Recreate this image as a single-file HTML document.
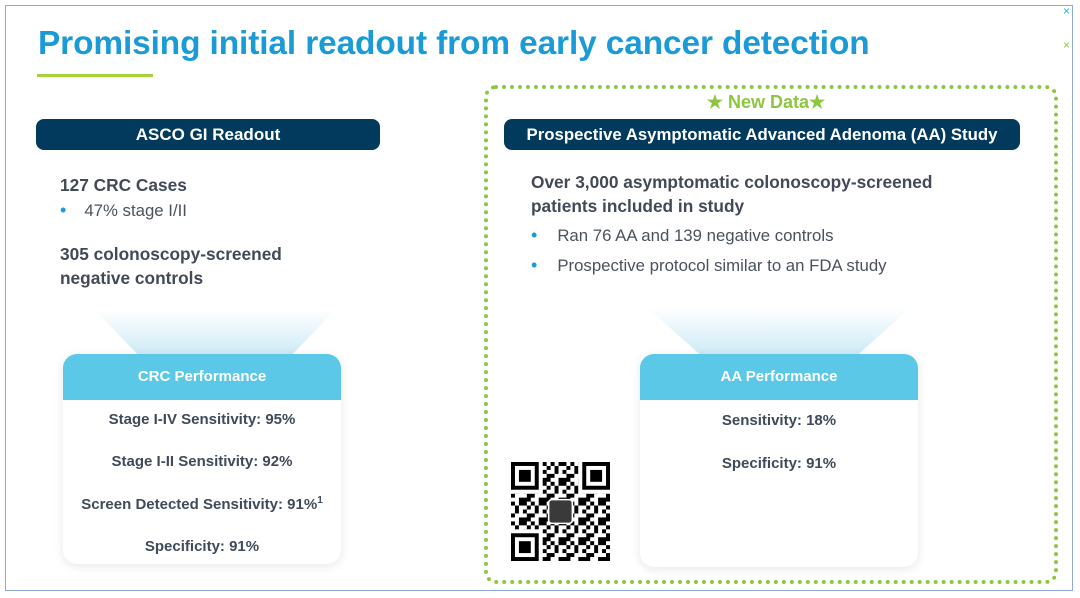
<!DOCTYPE html>
<html><head><meta charset="utf-8"><style>
body{margin:0;width:1080px;height:598px;background:#fff;position:relative;overflow:hidden;font-family:"Liberation Sans",sans-serif}
.a{position:absolute}
.frame{left:5px;top:5px;width:1066px;height:584px;border:1px solid #8fa8d8}
.title{left:38px;top:25px;font-size:33.4px;font-weight:bold;color:#1a9ad6;letter-spacing:-0.1px}
.bar{background:#013a5c;color:#fff;font-weight:bold;font-size:17px;border-radius:8px;text-align:center;line-height:31px}
.t{color:#414a56;font-size:17.3px;font-weight:bold;line-height:24px}
.n{color:#4a525c;font-size:16.8px;line-height:24px}
.dot{color:#1a9ad6;font-size:18px}
.card{background:#fff;border-radius:14px;box-shadow:0 2px 10px rgba(0,0,0,0.10);overflow:hidden}
.card .h{background:#5bc8e8;color:#fff;font-weight:bold;font-size:15px;text-align:center;height:46px;line-height:46px}
.row{position:absolute;left:0;right:0;text-align:center;color:#3f4a5a;font-weight:bold;font-size:15px}
.glow{background:linear-gradient(#fff,#cdeaf6)}
</style></head><body>
<div class="a frame"></div>
<div class="a" style="left:1063px;top:4px;color:#2ab0e0;font-size:12px">×</div>
<div class="a" style="left:1063px;top:38px;color:#8dc63f;font-size:12px">×</div>
<div class="a title">Promising initial readout from early cancer detection</div>
<div class="a" style="left:37px;top:74px;width:116px;height:3px;background:#a5d13d"></div>

<div class="a bar" style="left:36px;top:119px;width:344px;height:31px">ASCO GI Readout</div>
<div class="a t" style="left:60px;top:173px">127 CRC Cases</div>
<div class="a n" style="left:60px;top:198px"><span class="dot">•</span><span style="margin-left:18px">47% stage I/II</span></div>
<div class="a t" style="left:60px;top:242px">305 colonoscopy-screened<br>negative controls</div>

<div class="a glow" style="left:95px;top:310px;width:240px;height:45px;clip-path:polygon(0 0,100% 0,82% 100%,18% 100%)"></div>
<div class="a card" style="left:63px;top:354px;width:278px;height:210px">
<div class="h">CRC Performance</div>
<div class="row" style="top:57px">Stage I-IV Sensitivity: 95%</div>
<div class="row" style="top:99px">Stage I-II Sensitivity: 92%</div>
<div class="row" style="top:141px">Screen Detected Sensitivity: 91%<sup style="font-size:10px">1</sup></div>
<div class="row" style="top:184px">Specificity: 91%</div>
</div>

<div class="a" style="left:484px;top:85px;width:566px;height:491px;border:4px dotted #8dc63f;border-radius:12px"></div>
<div class="a" style="left:690px;top:90px;width:152px;text-align:center;background:#fff;color:#8dc63f;font-weight:bold;font-size:18px;line-height:24px">★ New Data★</div>
<div class="a bar" style="left:504px;top:119px;width:516px;height:31px;font-size:16.8px">Prospective Asymptomatic Advanced Adenoma (AA) Study</div>
<div class="a t" style="left:531px;top:170px">Over 3,000 asymptomatic colonoscopy-screened<br>patients included in study</div>
<div class="a n" style="left:531px;top:223px"><span class="dot">•</span><span style="margin-left:20px">Ran 76 AA and 139 negative controls</span></div>
<div class="a n" style="left:531px;top:253px"><span class="dot">•</span><span style="margin-left:20px">Prospective protocol similar to an FDA study</span></div>

<div class="a glow" style="left:648px;top:308px;width:262px;height:47px;clip-path:polygon(0 0,100% 0,80% 100%,20% 100%)"></div>
<div class="a card" style="left:640px;top:354px;width:278px;height:213px">
<div class="h">AA Performance</div>
<div class="row" style="top:58px">Sensitivity: 18%</div>
<div class="row" style="top:101px">Specificity: 91%</div>
</div>

<svg class="a" style="left:511px;top:462px" width="99" height="99" viewBox="0 0 25 25">
<defs><pattern id="p" width="5" height="5" patternUnits="userSpaceOnUse">
<rect x="0" y="0" width="1" height="1"/><rect x="2" y="0" width="2" height="1"/><rect x="1" y="1" width="1" height="2"/><rect x="3" y="2" width="1" height="1"/><rect x="0" y="3" width="1" height="1"/><rect x="2" y="4" width="2" height="1"/><rect x="4" y="1" width="1" height="1"/><rect x="4" y="3" width="1" height="2"/></pattern></defs>
<rect width="25" height="25" fill="url(#p)"/>
<g><rect x="0" y="0" width="8" height="8" fill="#fff"/><rect x="17" y="0" width="8" height="8" fill="#fff"/><rect x="0" y="17" width="8" height="8" fill="#fff"/>
<rect x="0.5" y="0.5" width="6" height="6" fill="none" stroke="#000"/><rect x="2" y="2" width="3" height="3"/>
<rect x="18.5" y="0.5" width="6" height="6" fill="none" stroke="#000"/><rect x="20" y="2" width="3" height="3"/>
<rect x="0.5" y="18.5" width="6" height="6" fill="none" stroke="#000"/><rect x="2" y="20" width="3" height="3"/>
<rect x="9.5" y="9.5" width="6" height="6" rx="0.8" fill="#3a3a3a" stroke="#fff" stroke-width="0.4"/></g>
</svg>
</body></html>
